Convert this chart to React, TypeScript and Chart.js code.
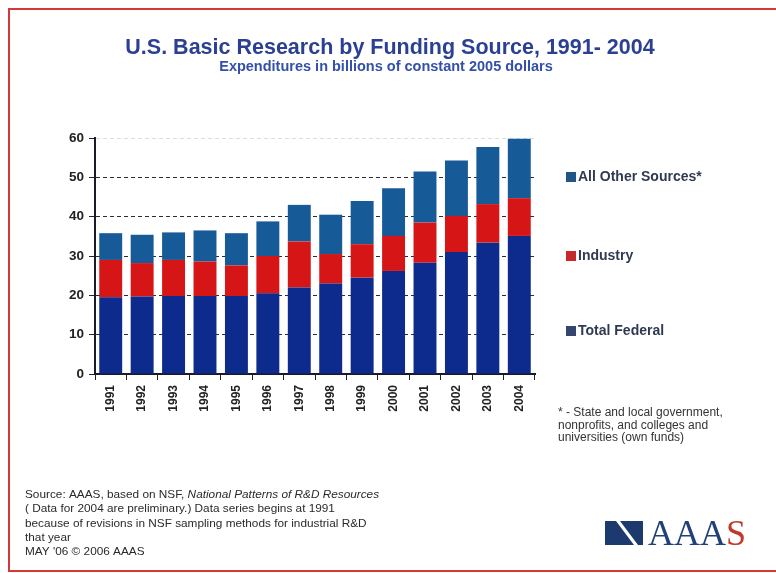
import React, { useEffect, useRef } from "react";
import { Chart, registerables } from "chart.js";

Chart.register(...registerables);

const years = ["1991", "1992", "1993", "1994", "1995", "1996", "1997", "1998", "1999", "2000", "2001", "2002", "2003", "2004"];
const federal = [19.5, 19.7, 19.8, 19.8, 19.8, 20.5, 22.0, 23.0, 24.5, 26.2, 28.3, 31.0, 33.4, 35.1];
const industry = [9.5, 8.5, 9.2, 8.8, 7.8, 9.5, 11.7, 7.5, 8.5, 8.9, 10.2, 9.2, 9.8, 9.6];
const otherSources = [6.8, 7.2, 7.0, 7.9, 8.2, 8.8, 9.3, 10.0, 11.0, 12.1, 13.0, 14.1, 14.5, 15.1];
const seriesNames = ["Total Federal", "Industry", "All Other Sources*"];
const yMin = 0;
const yMax = 60;
const yStep = 10;

const titleText = "U.S. Basic Research by Funding Source, 1991- 2004";
const subtitleText = "Expenditures in billions of constant 2005 dollars";
const footnoteLines = [
  "* - State and local government,",
  "nonprofits, and colleges and",
  "universities (own funds)",
];
const sourcePlain = "Source: AAAS, based on NSF, ";
const sourceItalic = "National Patterns of R&D Resources";
const sourceLines = [
  "( Data for 2004 are preliminary.) Data series begins at 1991",
  "because of revisions in NSF sampling methods for industrial R&D",
  "that year",
  "MAY '06 \u00a9 2006 AAAS",
];
const logoText = "AAA";
const logoTextEnd = "S";

const FONT = "'Liberation Sans', Arial, sans-serif";

const decorPlugin = {
  id: "decor",
  beforeDraw(chart: any) {
    const ctx = chart.ctx;
    ctx.save();
    ctx.fillStyle = "#ffffff";
    ctx.fillRect(0, 0, chart.width, chart.height);
    ctx.restore();
  },
  afterDraw(chart: any) {
    const ctx = chart.ctx;
    ctx.save();
    // frame
    ctx.strokeStyle = "#d23a3a";
    ctx.lineWidth = 2;
    ctx.beginPath();
    ctx.moveTo(790, 9);
    ctx.lineTo(9, 9);
    ctx.lineTo(9, 571);
    ctx.lineTo(790, 571);
    ctx.stroke();

    // title
    ctx.textAlign = "center";
    ctx.textBaseline = "alphabetic";
    ctx.fillStyle = "#2b3f93";
    ctx.font = `bold 21.5px ${FONT}`;
    ctx.fillText(titleText, 390, 54);
    ctx.fillStyle = "#3450aa";
    ctx.font = `bold 14.5px ${FONT}`;
    ctx.fillText(subtitleText, 386, 71);

    // legend
    const legendColors = ["#1f5686", "#c8282c", "#34466e"];
    const legendItems = [seriesNames[2], seriesNames[1], seriesNames[0]];
    const legendY = [177, 256, 331];
    ctx.textAlign = "left";
    ctx.textBaseline = "middle";
    ctx.font = `bold 14px ${FONT}`;
    legendItems.forEach((name, i) => {
      ctx.fillStyle = legendColors[i];
      ctx.fillRect(566, legendY[i] - 5, 10, 10);
      ctx.fillStyle = "#2f3a52";
      ctx.fillText(name, 578, legendY[i] + 0.5);
    });

    // footnote
    ctx.fillStyle = "#333333";
    ctx.font = `12px ${FONT}`;
    footnoteLines.forEach((l, i) => ctx.fillText(l, 558, 413 + i * 12.5));

    // source
    ctx.font = `11.8px ${FONT}`;
    ctx.fillStyle = "#2a2a2a";
    ctx.fillText(sourcePlain, 25, 495);
    const w = ctx.measureText(sourcePlain).width;
    ctx.font = `italic 11.8px ${FONT}`;
    ctx.fillText(sourceItalic, 25 + w, 495);
    ctx.font = `11.8px ${FONT}`;
    sourceLines.forEach((l, i) => ctx.fillText(l, 25, 509 + i * 14.3));

    // logo
    ctx.fillStyle = "#1c3a6e";
    ctx.beginPath();
    ctx.moveTo(605, 521);
    ctx.lineTo(616, 521);
    ctx.lineTo(634, 545);
    ctx.lineTo(605, 545);
    ctx.closePath();
    ctx.fill();
    ctx.beginPath();
    ctx.moveTo(620, 521);
    ctx.lineTo(643, 521);
    ctx.lineTo(643, 545);
    ctx.lineTo(638, 545);
    ctx.closePath();
    ctx.fill();
    ctx.textBaseline = "alphabetic";
    ctx.font = `36px 'Liberation Serif', 'Times New Roman', serif`;
    ctx.fillStyle = "#22407a";
    ctx.fillText(logoText, 648, 545);
    const lw = ctx.measureText(logoText).width;
    ctx.fillStyle = "#c0392b";
    ctx.fillText(logoTextEnd, 648 + lw, 545);
    ctx.restore();
  },
};

export default function App() {
  const ref = useRef<HTMLCanvasElement>(null);
  useEffect(() => {
    if (!ref.current) return;
    const chart = new Chart(ref.current, {
      type: "bar",
      data: {
        labels: years,
        datasets: [
          { label: seriesNames[0], data: federal, backgroundColor: "#0d2b8c" },
          { label: seriesNames[1], data: industry, backgroundColor: "#d61616" },
          { label: seriesNames[2], data: otherSources, backgroundColor: "#175a98" },
        ],
      },
      options: {
        responsive: false,
        animation: false,
        events: [],
        layout: { padding: { top: 138, left: 0, right: 241, bottom: 139 } },
        datasets: { bar: { categoryPercentage: 1, barPercentage: 0.73, borderWidth: 0 } },
        plugins: { legend: { display: false }, title: { display: false }, tooltip: { enabled: false } },
        scales: {
          x: {
            stacked: true,
            afterFit: (s: any) => { s.height = 60; },
            grid: { display: true, drawOnChartArea: false, drawTicks: true, tickLength: 6, tickColor: "#222", offset: true },
            border: { display: true, color: "#1a1a2a", width: 2 },
            ticks: {
              minRotation: 90,
              maxRotation: 90,
              autoSkip: false,
              padding: 5,
              color: "#222",
              font: { family: FONT, size: 12, weight: "bold" },
            },
          },
          y: {
            stacked: true,
            min: yMin,
            max: yMax,
            afterFit: (s: any) => { s.width = 95; },
            ticks: {
              stepSize: yStep,
              padding: 5,
              color: "#222",
              font: { family: FONT, size: 13.5, weight: "bold" },
            },
            grid: {
              color: (c: any) => (c.tick && (c.tick.value === yMin) ? "rgba(0,0,0,0)" : c.tick && c.tick.value === yMax ? "#dddddd" : "#2b2b3b"),
              lineWidth: 1,
              tickLength: 6,
              tickColor: "#222",
              tickBorderDash: [],
            },
            border: { display: true, color: "#1a1a2a", width: 2, dash: [4, 3] },
          },
        },
      } as any,
      plugins: [decorPlugin],
    });
    return () => chart.destroy();
  }, []);
  return (
    <div style={{ position: "fixed", left: 0, top: 0, width: 776, height: 573, background: "#fff" }}>
      <canvas ref={ref} width={776} height={573} style={{ display: "block" }} />
    </div>
  );
}
